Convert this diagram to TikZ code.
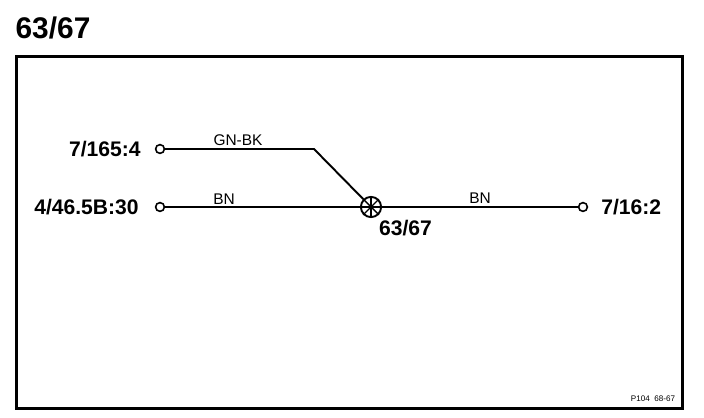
\documentclass[tikz,border=0pt]{standalone}
\usepackage{fontspec}
\setmainfont{Liberation Sans}

\begin{document}
\begin{tikzpicture}[x=0.02cm,y=-0.02cm]
  \tikzstyle{terminal}=[circle,draw,fill=white,line width=0.9pt,minimum size=5pt,inner sep=0pt]
  \tikzstyle{splice}=[circle,draw,fill=white,line width=1.1pt,minimum size=11.5pt,inner sep=0pt]
  \tikzstyle{wire}=[line width=1.1pt]
  \tikzstyle{endlabel}=[font=\fontsize{12}{14}\selectfont\bfseries,inner sep=0pt]
  \tikzstyle{wirelabel}=[font=\fontsize{8.8}{10}\selectfont,inner sep=0pt]

  \useasboundingbox (0, 0) rectangle (704, 418);

  \node[font=\fontsize{17}{20}\selectfont\bfseries,inner sep=0pt] (title) at (53, 28) {63/67};
  \node[draw,line width=1.7pt,inner sep=0pt,minimum width=13.34cm,minimum height=7.06cm] (frame) at (349.5, 232.5) {};

  \node[terminal] (a) at (160, 149) {};
  \node[terminal] (b) at (160, 207) {};
  \node[terminal] (c) at (583, 207) {};
  \node[splice] (s) at (371, 207) {};
  \coordinate (bend) at (314, 149);

  \draw[wire] (a) -- (bend) -- (s);
  \draw[wire] (b) -- (s);
  \draw[wire] (s) -- (c);

  \foreach \ang in {0, 45, ..., 315}
    \draw[line width=0.8pt] (s.center) -- (s.\ang);

  \node[endlabel,anchor=east] (la) at (141, 149) {7/165:4};
  \node[endlabel,anchor=east] (lb) at (139, 207) {4/46.5B:30};
  \node[endlabel,anchor=west] (lc) at (601, 207) {7/16:2};
  \node[endlabel] (ls) at (405.5, 228) {63/67};

  \node[wirelabel] (gnbk) at (238, 140) {GN-BK};
  \node[wirelabel] (bn1) at (224, 199) {BN};
  \node[wirelabel] (bn2) at (480, 198) {BN};

  \node[font=\fontsize{4.6}{6}\selectfont,inner sep=0pt] (ref) at (653, 399) {P104\ \ 68-67};
\end{tikzpicture}
\end{document}
